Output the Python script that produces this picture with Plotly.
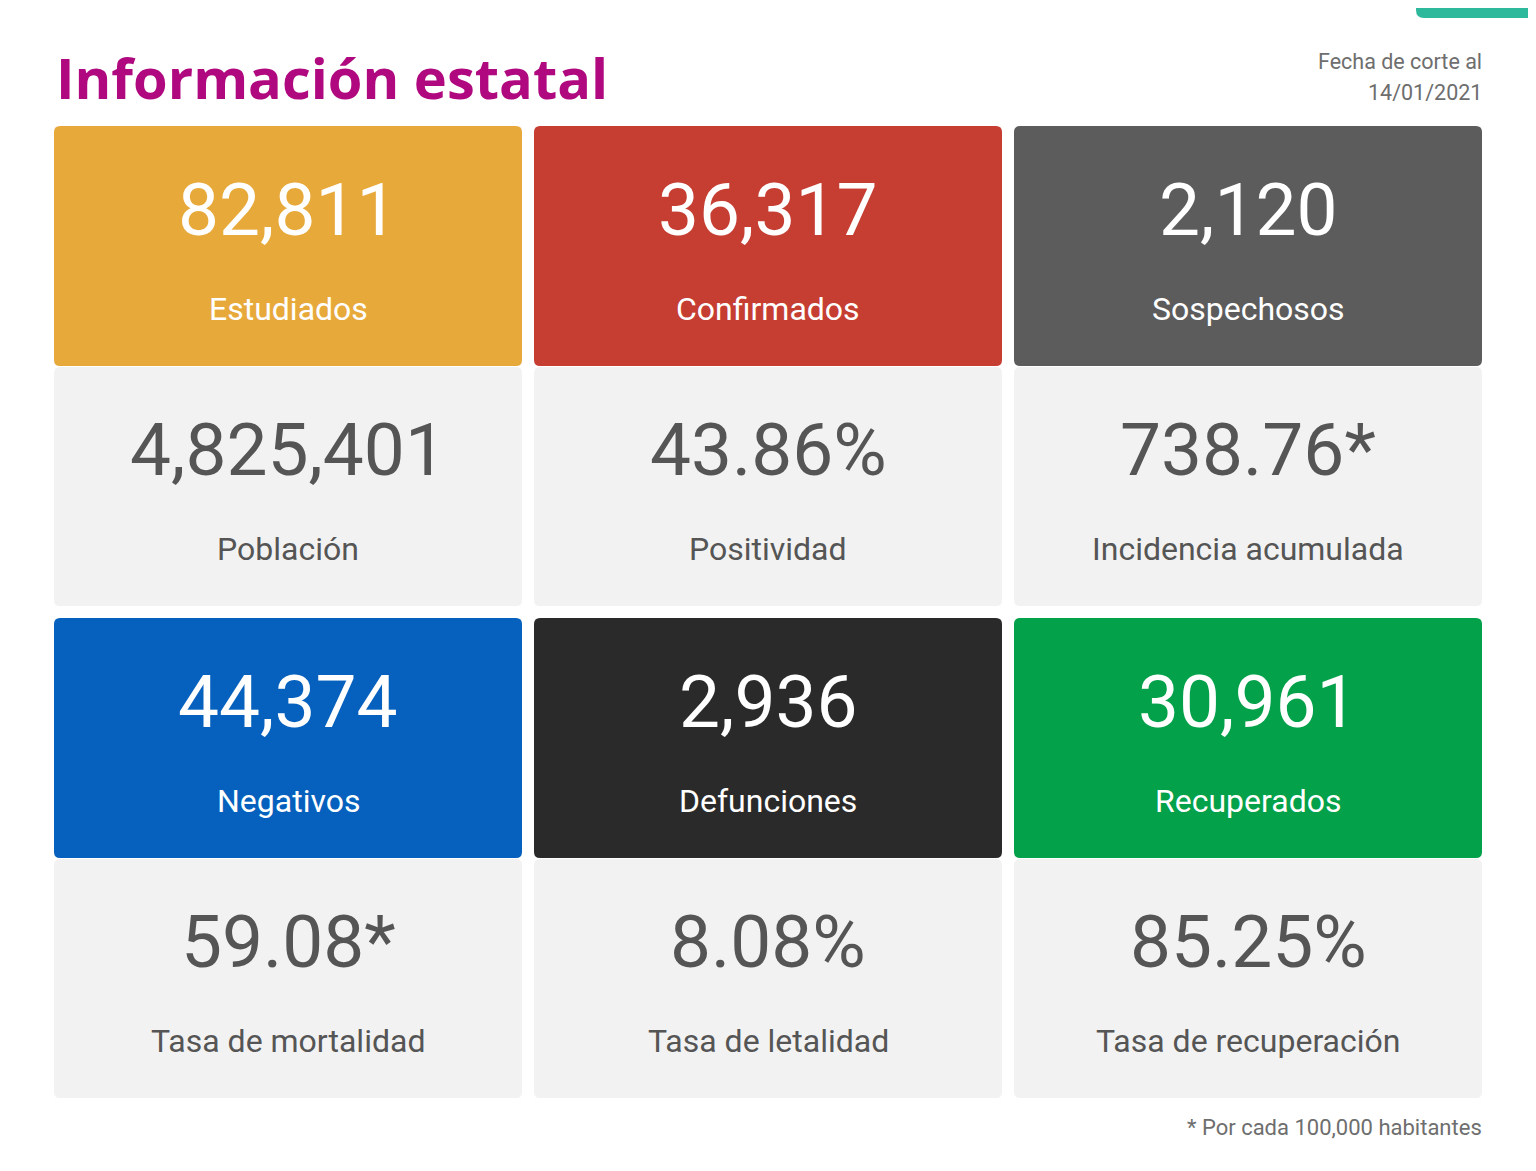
import plotly.graph_objects as go

# datos del tablero
valores_top = ["82,811", "36,317", "2,120", "44,374", "2,936", "30,961"]
etiquetas_top = ["Estudiados", "Confirmados", "Sospechosos", "Negativos", "Defunciones", "Recuperados"]
colores_top = ["#E8A93B", "#C63D32", "#5C5C5C", "#0561BD", "#2A2A2A", "#03A14A"]

valores_sub = ["4,825,401", "43.86%", "738.76*", "59.08*", "8.08%", "85.25%"]
etiquetas_sub = ["Población", "Positividad", "Incidencia acumulada",
                 "Tasa de mortalidad", "Tasa de letalidad", "Tasa de recuperación"]

titulo = "Información estatal"
fecha = ["Fecha de corte al", "14/01/2021"]
nota = "* Por cada 100,000 habitantes"

OFF = 8  # margen del body de la página
W, H = 1536 - 2 * OFF, 1171 - 2 * OFF
col_x = [54, 534, 1014]
card_w = 468
card_h = 240
fila_y = [126, 618]


def rect_redondo(x0, y0, x1, y1, r=6):
    return (f"M{x0+r},{y0} L{x1-r},{y0} Q{x1},{y0} {x1},{y0+r} "
            f"L{x1},{y1-r} Q{x1},{y1} {x1-r},{y1} L{x0+r},{y1} "
            f"Q{x0},{y1} {x0},{y1-r} L{x0},{y0+r} Q{x0},{y0} {x0+r},{y0} Z")


fig = go.Figure()
shapes = []
anns = []

for i in range(6):
    c = i % 3
    f = i // 3
    x0 = col_x[c]
    y0 = fila_y[f]
    cx = x0 + card_w / 2

    # tarjeta de color
    shapes.append(dict(type="path", path=rect_redondo(x0, y0, x0 + card_w, y0 + card_h),
                       fillcolor=colores_top[i], line=dict(width=0), layer="below"))
    # tarjeta gris
    y1 = y0 + card_h
    shapes.append(dict(type="path", path=rect_redondo(x0, y1 + 1, x0 + card_w, y1 + card_h),
                       fillcolor="#F2F2F2", line=dict(width=0), layer="below"))

    anns.append(dict(x=cx, y=y0 + 84, text=valores_top[i], showarrow=False,
                     font=dict(family="Roboto", size=73, color="white")))
    anns.append(dict(x=cx, y=y0 + 183, text=etiquetas_top[i], showarrow=False,
                     font=dict(family="Roboto", size=32, color="white")))
    anns.append(dict(x=cx, y=y1 + 84, text=valores_sub[i], showarrow=False,
                     font=dict(family="Roboto", size=73, color="#555555")))
    anns.append(dict(x=cx, y=y1 + 183, text=etiquetas_sub[i], showarrow=False,
                     font=dict(family="Roboto", size=32, color="#555555")))

# pestaña verde arriba a la derecha
shapes.append(dict(type="path",
                   path="M1416,0 L1540,0 L1540,18 L1424,18 Q1416,18 1416,10 Z",
                   fillcolor="#2FB99C", line=dict(width=0)))

anns.append(dict(x=54, y=77, text=f"<b>{titulo}</b>", showarrow=False, xanchor="left",
                 font=dict(family="Open Sans", size=56, color="#B0097F")))
anns.append(dict(x=1484, y=61, text=fecha[0], showarrow=False, xanchor="right",
                 font=dict(family="Roboto", size=21.5, color="#6E6E6E")))
anns.append(dict(x=1484, y=92, text=fecha[1], showarrow=False, xanchor="right",
                 font=dict(family="Roboto", size=21.5, color="#6E6E6E")))
anns.append(dict(x=1484, y=1127, text=nota, showarrow=False, xanchor="right",
                 font=dict(family="Roboto", size=22, color="#6E6E6E")))

for a in anns:
    a["xref"] = "x"
    a["yref"] = "y"

fig.update_layout(
    width=W, height=H,
    margin=dict(l=0, r=0, t=0, b=0),
    paper_bgcolor="white", plot_bgcolor="white",
    shapes=shapes, annotations=anns,
    xaxis=dict(range=[OFF, W + OFF], visible=False, fixedrange=True),
    yaxis=dict(range=[H + OFF, OFF], visible=False, fixedrange=True),
    showlegend=False,
)

fig.write_html("out.html", config={"displayModeBar": False})
